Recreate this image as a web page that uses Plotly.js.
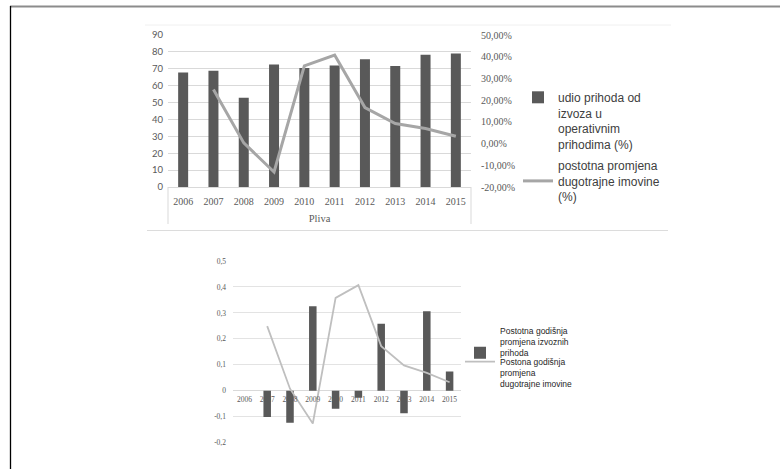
<!DOCTYPE html>
<html>
<head>
<meta charset="utf-8">
<script src="https://cdn.plot.ly/plotly-3.0.1.min.js"></script>
<style>html,body{margin:0;padding:0;background:#fff;}#chart{width:780px;height:469px;}</style>
</head>
<body>
<div id="chart"></div>
<script>
// ---- data ----
const years = ['2006','2007','2008','2009','2010','2011','2012','2013','2014','2015'];
// top chart: share of export revenue in operating revenue (left axis)
const exportShare = [67.8, 68.8, 52.8, 72.6, 70.4, 72.0, 75.6, 71.6, 78.3, 79.1];
// top chart: percentage change of fixed assets (right axis)
const assetChangeTop = [null, 0.249, 0.003, -0.131, 0.358, 0.408, 0.166, 0.092, 0.069, 0.034];
// bottom chart: annual change of export revenue
const exportGrowth = [null, -0.101, -0.123, 0.326, -0.069, -0.027, 0.258, -0.087, 0.306, 0.074];
// bottom chart: annual change of fixed assets
const assetChangeBottom = [null, 0.249, 0.008, -0.126, 0.358, 0.407, 0.172, 0.098, 0.069, 0.033];

// tick labels
const rightTickVals = [-0.2, -0.1, 0, 0.1, 0.2, 0.3, 0.4, 0.5];
const rightTickText = ['-20,00%', '-10,00%', '0,00%', '10,00%', '20,00%', '30,00%', '40,00%', '50,00%'];
const bottomTickVals = [-0.2, -0.1, 0, 0.1, 0.2, 0.3, 0.4, 0.5];
const bottomTickText = ['-0,2', '-0,1', '0', '0,1', '0,2', '0,3', '0,4', '0,5'];

const nameShare = 'udio prihoda od<br>izvoza u<br>operativnim<br>prihodima (%)';
const nameAssetTop = 'postotna promjena<br>dugotrajne imovine<br>(%)';
const nameGrowth = 'Postotna godišnja<br>promjena izvoznih<br>prihoda';
const nameAssetBottom = 'Postona godišnja<br>promjena<br>dugotrajne imovine';
const xGroupLabel = 'Pliva';

const W = 780, H = 469;
const px = v => v / W;
const py = v => 1 - v / H;

const barColor = '#595959';
const serif = 'Liberation Serif, Times New Roman, serif';
const sans = 'Liberation Sans, Arial, sans-serif';

// domains
const topX = [px(168), px(471)];
const topY = [py(187), py(35)];
const botX = [px(233), px(461)];
const botY = [py(442.7), py(261)];
const botRange = [-0.2, 0.5];
const zeroPos = botY[0] + (0 - botRange[0]) / (botRange[1] - botRange[0]) * (botY[1] - botY[0]);

const traces = [
  {type:'bar', x: years, y: exportShare, name: nameShare, xaxis:'x', yaxis:'y',
   marker:{color: barColor}, legend:'legend', hoverinfo:'skip'},
  {type:'scatter', mode:'lines', x: years, y: assetChangeTop, name: nameAssetTop, xaxis:'x', yaxis:'y2',
   line:{color:'#a6a6a6', width:3}, legend:'legend2', hoverinfo:'skip'},
  {type:'bar', x: years, y: exportGrowth, name: nameGrowth, xaxis:'x2', yaxis:'y3',
   marker:{color: barColor}, legend:'legend3', hoverinfo:'skip'},
  {type:'scatter', mode:'lines', x: years, y: assetChangeBottom, name: nameAssetBottom, xaxis:'x2', yaxis:'y3',
   line:{color:'#bfbfbf', width:1.8}, legend:'legend4', hoverinfo:'skip'}
];

const legendBase = {bgcolor:'rgba(0,0,0,0)', borderwidth:0, xanchor:'left', yanchor:'top', tracegroupgap:0};

const layout = {
  width: W, height: H,
  margin:{l:0, r:0, t:0, b:0},
  paper_bgcolor:'#fff', plot_bgcolor:'rgba(0,0,0,0)',
  separators: ',.',
  bargap: 0.67,
  showlegend: true,
  xaxis:{domain: topX, anchor:'y', type:'category', range:[-0.5, 9.5],
    showline:true, linecolor:'#d9d9d9', linewidth:1, ticks:'', showgrid:false, zeroline:false,
    ticklabelstandoff:5,
    tickfont:{family: serif, size:10, color:'#595959'},
    title:{text: xGroupLabel, font:{family: serif, size:10.5, color:'#595959'}, standoff:8}},
  yaxis:{domain: topY, anchor:'x', range:[0, 90], dtick:10, showgrid:true, gridcolor:'#d9d9d9', gridwidth:1,
    zeroline:false, showline:false, ticks:'', ticklabelstandoff:4,
    tickfont:{family:'Lato, Open Sans, sans-serif', size:9.5, color:'#595959'}},
  yaxis2:{overlaying:'y', side:'right', anchor:'x', range:[-0.2, 0.5],
    tickmode:'array', tickvals: rightTickVals, ticktext: rightTickText,
    showgrid:false, zeroline:false, showline:false, ticks:'', ticklabelstandoff:9,
    tickfont:{family: serif, size:10, color:'#595959'}},
  xaxis2:{domain: botX, anchor:'free', position: zeroPos, type:'category', range:[-0.5, 9.5],
    showline:false, ticks:'', showgrid:false, zeroline:false, ticklabelstandoff:3,
    tickfont:{family: serif, size:7.5, color:'#595959'}},
  yaxis3:{domain: botY, anchor:'x2', range: botRange,
    tickmode:'array', tickvals: bottomTickVals, ticktext: bottomTickText,
    showgrid:true, gridcolor:'#e3e3e3', gridwidth:1, zeroline:true, zerolinecolor:'#d9d9d9', zerolinewidth:1,
    showline:false, ticks:'', ticklabelstandoff:6,
    tickfont:{family: serif, size:7.5, color:'#595959'}},
  legend: Object.assign({}, legendBase, {x: px(518), y: py(83), valign:'top',
    font:{family: sans, size:12, color:'#404040'}}),
  legend2: Object.assign({}, legendBase, {x: px(518), y: py(151), valign:'middle',
    font:{family: sans, size:12, color:'#404040'}}),
  legend3: Object.assign({}, legendBase, {x: px(460), y: py(318.5), valign:'bottom',
    font:{family: sans, size:8.5, color:'#262626'}}),
  legend4: Object.assign({}, legendBase, {x: px(460), y: py(349.5), valign:'top',
    font:{family: sans, size:8.5, color:'#262626'}}),
  shapes:[
    // page frame
    {type:'line', xref:'paper', yref:'paper', x0: px(10), x1: 1, y0: py(6.5), y1: py(6.5), line:{color:'#8c8c8c', width:2}},
    {type:'line', xref:'paper', yref:'paper', x0: px(10.5), x1: px(10.5), y0: py(6), y1: 0, line:{color:'#000', width:1.3}},
    // top chart area edges
    {type:'line', xref:'paper', yref:'paper', x0: px(145), x1: px(671), y0: py(25), y1: py(25), line:{color:'#f0f0f0', width:1}},
    {type:'line', xref:'paper', yref:'paper', x0: px(147), x1: px(668), y0: py(230.5), y1: py(230.5), line:{color:'#dcdcdc', width:1.2}},
    // group-label separators of the category axis
    {type:'line', xref:'x domain', yref:'paper', x0: 0, x1: 0, y0: py(187), y1: py(224), line:{color:'#d9d9d9', width:1}},
    {type:'line', xref:'x domain', yref:'paper', x0: 1, x1: 1, y0: py(187), y1: py(224), line:{color:'#d9d9d9', width:1}}
  ]
};

Plotly.newPlot('chart', traces, layout, {staticPlot:true, displayModeBar:false});
</script>
</body>
</html>
